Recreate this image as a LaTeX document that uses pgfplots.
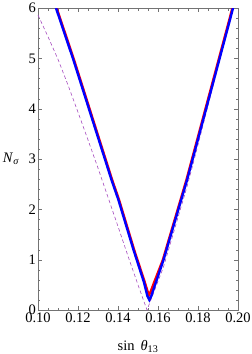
\documentclass[border=0pt]{standalone}
\usepackage{fontspec}
\setmainfont{Liberation Serif}
\usepackage{pgfplots}
\pgfplotsset{compat=1.18}
\definecolor{dpurple}{rgb}{0.65,0.3,0.75}
\begin{document}
\begin{tikzpicture}
\useasboundingbox (0,0) rectangle (252pt,354pt);
\begin{axis}[
  at={(38pt,44pt)}, anchor=south west,
  scale only axis, width=200pt, height=302pt,
  xmin=0.1, xmax=0.2, ymin=0, ymax=6,
  xtick={0.10,0.12,0.14,0.16,0.18,0.20},
  ytick={0,1,2,3,4,5,6},
  minor x tick num=3, minor y tick num=4,
  scaled x ticks=false,
  xticklabel style={inner sep=1pt, yshift=-1.5pt, /pgf/number format/fixed, /pgf/number format/fixed zerofill, /pgf/number format/precision=2},
  yticklabel style={inner sep=2pt},
  /pgf/number format/assume math mode=true,
  tick align=inside,
  axis line style={black!55},
  tick style={black!55},
  major tick length=4pt, minor tick length=2.5pt,
  tick label style={font=\fontsize{14.5}{16}\selectfont},
  label style={font=\fontsize{14.5}{16}\selectfont},
  xlabel={sin\ \,\textit{θ}\textsubscript{13}},
  ylabel={\textit{N}\textsubscript{\textit{σ}}},
  xlabel style={at={(axis description cs:0.5,-0.122)}, anchor=center},
  ylabel style={rotate=-90, at={(axis description cs:-0.135,0.5)}, anchor=center},
  clip=true,
]
\addplot[dpurple, dash pattern=on 3.5pt off 2.5pt, line width=0.6pt] coordinates {
(0.1,5.86) (0.105,5.43) (0.11,4.98) (0.115,4.47) (0.12,3.93) (0.125,3.38)
(0.13,2.82) (0.135,2.24) (0.14,1.66) (0.145,1.07) (0.15,0.5) (0.1545,0.0)
(0.1627,0.85) (0.1745,2.45) (0.1785,3.05) (0.1975,6.0)
};
\addplot[red, line width=2.4pt] coordinates {
(0.1093,6.0) (0.118,4.97) (0.1371,2.58) (0.1405,2.19) (0.1481,1.19)
(0.1533,0.56) (0.1547,0.38) (0.1555,0.30) (0.1563,0.36) (0.1578,0.52)
(0.1624,0.99) (0.1742,2.58) (0.1769,2.98) (0.1957,5.77) (0.1972,6.0)
};
\addplot[blue, line width=2.4pt] coordinates {
(0.109,6.0) (0.1177,4.97) (0.1368,2.58) (0.1402,2.19) (0.1478,1.19)
(0.153,0.55) (0.1547,0.28) (0.1557,0.20) (0.1566,0.27) (0.158,0.44)
(0.1627,0.99) (0.1745,2.58) (0.1772,2.98) (0.196,5.77) (0.1975,6.0)
};
\end{axis}
\end{tikzpicture}
\end{document}
